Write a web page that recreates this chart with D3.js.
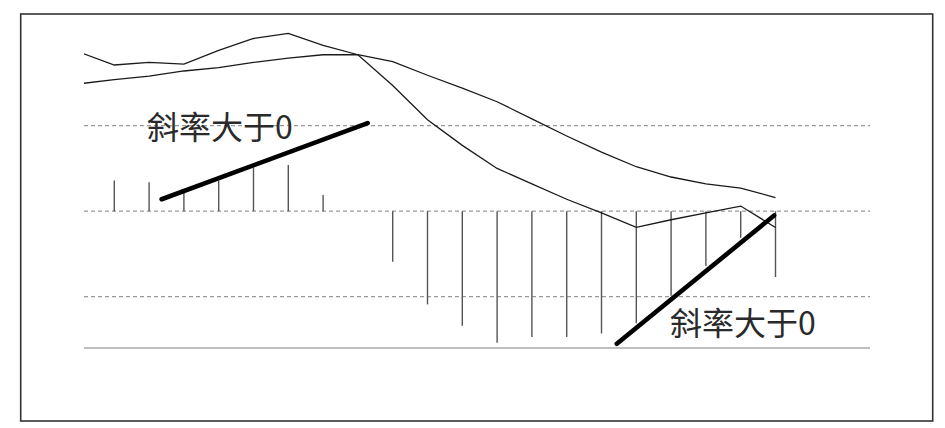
<!DOCTYPE html>
<html>
<head>
<meta charset="utf-8">
<script src="https://cdn.jsdelivr.net/npm/d3@7"></script>
<style>
  html, body { margin: 0; padding: 0; background: #fff; }
  svg { display: block; }
</style>
</head>
<body>
<svg id="chart" width="945" height="428"></svg>
<script>
// bar index runs -1..19, index -1 only feeds the lines (clipped at the left edge)
var lineIdx = d3.range(-1, 20);
var dif = [1.86, 1.71, 1.74, 1.72, 1.88, 2.02, 2.08, 1.94, 1.83, 1.47, 1.07, 0.77, 0.50, 0.32, 0.14, -0.02, -0.19, -0.10, -0.02, 0.06, -0.19];
var dea = [1.49, 1.54, 1.58, 1.64, 1.68, 1.74, 1.79, 1.83, 1.83, 1.75, 1.59, 1.44, 1.28, 1.08, 0.88, 0.69, 0.52, 0.40, 0.32, 0.27, 0.16];
var barIdx = d3.range(0, 20);
var hist = [0.36, 0.34, 0.23, 0.36, 0.51, 0.54, 0.19, 0, -0.59, -1.09, -1.34, -1.54, -1.47, -1.47, -1.43, -1.31, -0.99, -0.64, -0.31, -0.77];
var gridVals = [1, 0, -1];
var baseVal = -1.6;
var slopeLines = [
  [[1.36, 0.14], [7.28, 1.03]],
  [[14.44, -1.55], [18.96, -0.05]]
];
var slopeLabels = [
  { text: "斜率大于0", i: 0.94, v: 0.845 },
  { text: "斜率大于0", i: 15.97, v: -1.445 }
];

var svg = d3.select("#chart");
var plotLeft = 84, plotRight = 870;

var x = d3.scaleLinear().domain([0, 19]).range([114.3, 775.5]);
var y = d3.scaleLinear().domain([-1, 1]).range([296.7, 125.7]);

// frame
svg.append("rect").attr("x", 20.7).attr("y", 14).attr("width", 912).attr("height", 407)
  .attr("fill", "none").attr("stroke", "#333").attr("stroke-width", 1.6);

svg.append("clipPath").attr("id", "plotclip").append("rect")
  .attr("x", plotLeft).attr("y", 0).attr("width", plotRight - plotLeft).attr("height", 428);

// dashed gridlines
svg.selectAll(".grid").data(gridVals).enter().append("line")
  .attr("class", "grid")
  .attr("x1", plotLeft).attr("x2", plotRight)
  .attr("y1", function(d) { return y(d); }).attr("y2", function(d) { return y(d); })
  .attr("stroke", "#999").attr("stroke-width", 1.3).attr("stroke-dasharray", "4,3");

// solid base line
svg.append("line")
  .attr("x1", plotLeft).attr("x2", plotRight)
  .attr("y1", y(baseVal)).attr("y2", y(baseVal))
  .attr("stroke", "#aaa").attr("stroke-width", 1.6);

// histogram sticks
svg.selectAll(".bar").data(barIdx.filter(function(i) { return hist[i] !== 0; })).enter().append("line")
  .attr("class", "bar")
  .attr("x1", function(i) { return x(i); }).attr("x2", function(i) { return x(i); })
  .attr("y1", y(0)).attr("y2", function(i) { return y(hist[i]); })
  .attr("stroke", "#555").attr("stroke-width", 1.4);

// two moving lines
var line = d3.line()
  .x(function(d) { return x(d[0]); })
  .y(function(d) { return y(d[1]); });
var g = svg.append("g").attr("clip-path", "url(#plotclip)");
[dif, dea].forEach(function(s) {
  g.append("path")
    .datum(lineIdx.map(function(i, k) { return [i, s[k]]; }))
    .attr("d", line)
    .attr("fill", "none").attr("stroke", "#1a1a1a").attr("stroke-width", 1.3);
});

// thick slope annotations
svg.selectAll(".slope").data(slopeLines).enter().append("path")
  .attr("class", "slope")
  .attr("d", line)
  .attr("stroke", "#000").attr("stroke-width", 4.6).attr("stroke-linecap", "round");

svg.selectAll(".lbl").data(slopeLabels).enter().append("text")
  .attr("class", "lbl")
  .attr("x", function(d) { return x(d.i); })
  .attr("y", function(d) { return y(d.v); })
  .attr("font-family", "'Noto Sans CJK SC', sans-serif")
  .attr("font-size", 32).attr("fill", "#2a2a2a")
  .text(function(d) { return d.text; });
</script>
</body>
</html>
